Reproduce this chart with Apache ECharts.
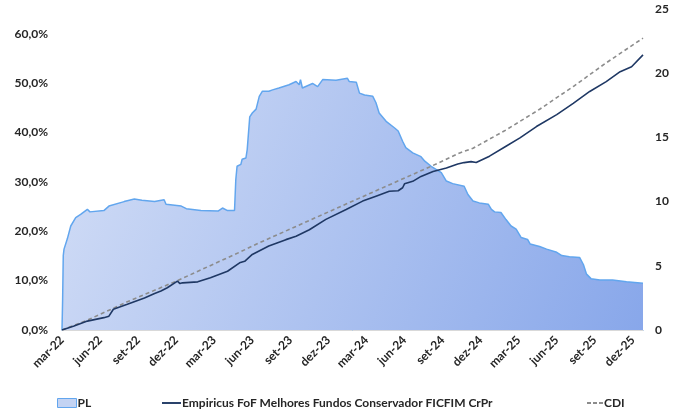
<!DOCTYPE html>
<html>
<head>
<meta charset="utf-8">
<script src="https://cdn.jsdelivr.net/npm/echarts@6/dist/echarts.min.js"></script>
<style>
html,body{margin:0;padding:0;background:#fff;}
#chart{width:685px;height:412px;}
</style>
</head>
<body>
<div id="chart"></div>
<script>
// x values are months elapsed since 1 Mar 2022
const xTickLabels = ['mar-22','jun-22','set-22','dez-22','mar-23','jun-23','set-23','dez-23','mar-24','jun-24','set-24','dez-24','mar-25','jun-25','set-25','dez-25'];
const leftTicks = [0,10,20,30,40,50,60];

const plMonths = [0,0.05,0.1,0.16,0.42,0.69,1.08,1.47,2.0,2.2,3.3,3.7,4.9,5.7,6.3,7.3,8.05,8.2,9.4,9.8,10.95,12.3,12.65,13.05,13.6,13.7,13.8,14.1,14.2,14.5,14.6,14.8,15.0,15.3,15.55,15.8,16.3,16.6,17.1,17.9,18.45,18.7,18.8,18.95,19.75,20.15,20.55,21.6,22.5,22.65,23.2,23.45,23.85,24.5,24.75,25.0,25.55,26.2,26.5,26.85,27.1,27.65,28.3,28.6,29.1,29.9,30.3,30.8,31.7,32.0,32.4,32.9,33.6,33.85,34.1,34.6,35.0,35.4,35.8,36.2,36.7,36.9,37.65,38.2,39.0,39.4,40.0,40.8,41.1,41.35,41.7,42.4,43.4,44.5,45.8];
const plValues = [0,2.4,5.8,6.3,7.1,8.1,8.75,9.0,9.4,9.2,9.3,9.65,10.0,10.2,10.1,10.0,10.15,9.8,9.65,9.45,9.3,9.26,9.5,9.3,9.3,11.7,12.75,12.9,13.3,13.4,14.05,16.6,16.9,17.2,18.2,18.6,18.6,18.7,18.85,19.1,19.35,19.1,19.5,18.85,19.2,18.95,19.5,19.45,19.6,19.35,19.3,18.45,18.3,18.2,17.7,16.9,16.25,15.75,15.5,14.7,14.2,13.8,13.5,13.15,12.75,12.25,11.6,11.4,11.2,10.55,10.05,9.9,9.8,9.4,9.2,9.15,8.6,8.1,7.85,7.2,7.05,6.7,6.5,6.3,6.05,5.8,5.7,5.65,5.1,4.35,4.0,3.9,3.9,3.75,3.65];

const fundMonths = [0,0.95,2.0,3.3,3.7,4.05,5.15,6.5,7.3,7.8,8.3,9.1,9.3,9.5,10.7,11.7,13.05,14.0,14.4,15.0,16.3,17.65,18.45,19.5,20.8,22.4,23.7,24.75,25.8,26.5,26.85,27.0,27.65,28.3,29.25,30.3,31.2,31.7,32.25,32.65,33.7,35.0,36.1,37.4,39.0,40.3,41.6,42.9,44.0,44.9,45.8];
const fundValues = [0,0.8,1.8,2.5,2.8,4.2,5.2,6.5,7.4,7.9,8.55,9.9,9.4,9.55,9.75,10.6,11.9,13.6,13.9,15.3,17.0,18.3,19.0,20.3,22.4,24.4,26.1,27.1,28.1,28.2,28.8,29.6,30.1,31.1,32.1,32.8,33.6,33.9,34.1,33.9,35.2,37.2,38.9,41.2,43.6,45.9,48.3,50.3,52.3,53.3,55.7];

const cdiMonths = [0,2.0,5.15,9.1,14.0,15.55,22.65,29.75,31.3,32.4,35.0,37.65,40.3,42.9,45.8];
const cdiValues = [0,2.0,5.7,10.0,15.75,17.65,25.8,33.9,35.8,36.8,40.5,44.7,49.3,54.1,59.1];

const names = ['PL','Empiricus FoF Melhores Fundos Conservador FICFIM CrPr','CDI'];

const zip = (a,b) => a.map((v,i)=>[v,b[i]]);
const FONT = 'Lato';
const txt = {color:'#262626', fontFamily:FONT, fontWeight:'bold', fontSize:12};

const chart = echarts.init(document.getElementById('chart'), null, {renderer:'canvas'});
chart.setOption({
  animation:false,
  backgroundColor:'#ffffff',
  grid:{left:62,right:42,top:9,bottom:82},
  xAxis:[{
    type:'value', min:0, max:45.8, interval:3,
    axisLine:{show:true, lineStyle:{color:'#62a6ee', width:1.2}},
    axisTick:{show:false}, splitLine:{show:false},
    axisLabel:Object.assign({rotate:45, margin:8, showMaxLabel:false,
      formatter:v => (Math.abs(v/3 - Math.round(v/3))<1e-6 && xTickLabels[Math.round(v/3)]) ? xTickLabels[Math.round(v/3)] : ''}, txt)
  },{
    type:'value', position:'top', min:0, max:45.8,
    axisLine:{show:true, lineStyle:{color:'#d9d9d9', width:1}},
    axisTick:{show:false}, axisLabel:{show:false}, splitLine:{show:false}
  }],
  yAxis:[{
    type:'value', min:0, max:65, interval:10,
    axisLine:{show:false}, axisTick:{show:false}, splitLine:{show:false},
    axisLabel:Object.assign({margin:14, showMaxLabel:false,
      formatter:v => leftTicks.indexOf(v)>=0 ? v.toFixed(1).replace('.',',')+'%' : ''}, txt)
  },{
    type:'value', min:0, max:25, interval:5, position:'right',
    axisLine:{show:false}, axisTick:{show:false}, splitLine:{show:false},
    axisLabel:Object.assign({margin:12}, txt)
  }],
  legend:[
    {data:[{name:names[0], icon:'rect', itemStyle:{color:'#c3d3f3', borderColor:'#62a6ee', borderWidth:1}}], left:52, top:392, itemWidth:19, itemHeight:9, textStyle:Object.assign({padding:[0,0,0,-4]}, txt)},
    {data:[{name:names[1], icon:'path://M0,0h20v2h-20z', itemStyle:{color:'#1f3864'}}], left:157, top:392, itemWidth:19, itemHeight:2, textStyle:Object.assign({padding:[0,0,0,-4]}, txt)},
    {data:[{name:names[2], icon:'path://M0,0h4v2h-4zM6,0h4v2h-4zM12,0h4v2h-4z', itemStyle:{color:'#8c8c8c'}}], left:582, top:392, itemWidth:16, itemHeight:2, textStyle:Object.assign({padding:[0,0,0,-4]}, txt)}
  ],
  series:[
    {
      name:names[0], type:'line', yAxisIndex:1, data:zip(plMonths, plValues),
      symbol:'none', lineStyle:{color:'#62a6ee', width:1.5},
      itemStyle:{color:'#62a6ee'},
      areaStyle:{opacity:1, color:new echarts.graphic.LinearGradient(0,0,1,1,[
        {offset:0, color:'#d3def6'},{offset:1, color:'#88a7ea'}])},
      z:1
    },
    {
      name:names[2], type:'line', data:zip(cdiMonths, cdiValues),
      symbol:'none', lineStyle:{color:'#8c8c8c', width:1.6, type:[4,3]},
      itemStyle:{color:'#8c8c8c'}, z:3
    },
    {
      name:names[1], type:'line', data:zip(fundMonths, fundValues),
      symbol:'none', lineStyle:{color:'#1f3864', width:1.6},
      itemStyle:{color:'#1f3864'}, z:4
    }
  ]
});
</script>
</body>
</html>
